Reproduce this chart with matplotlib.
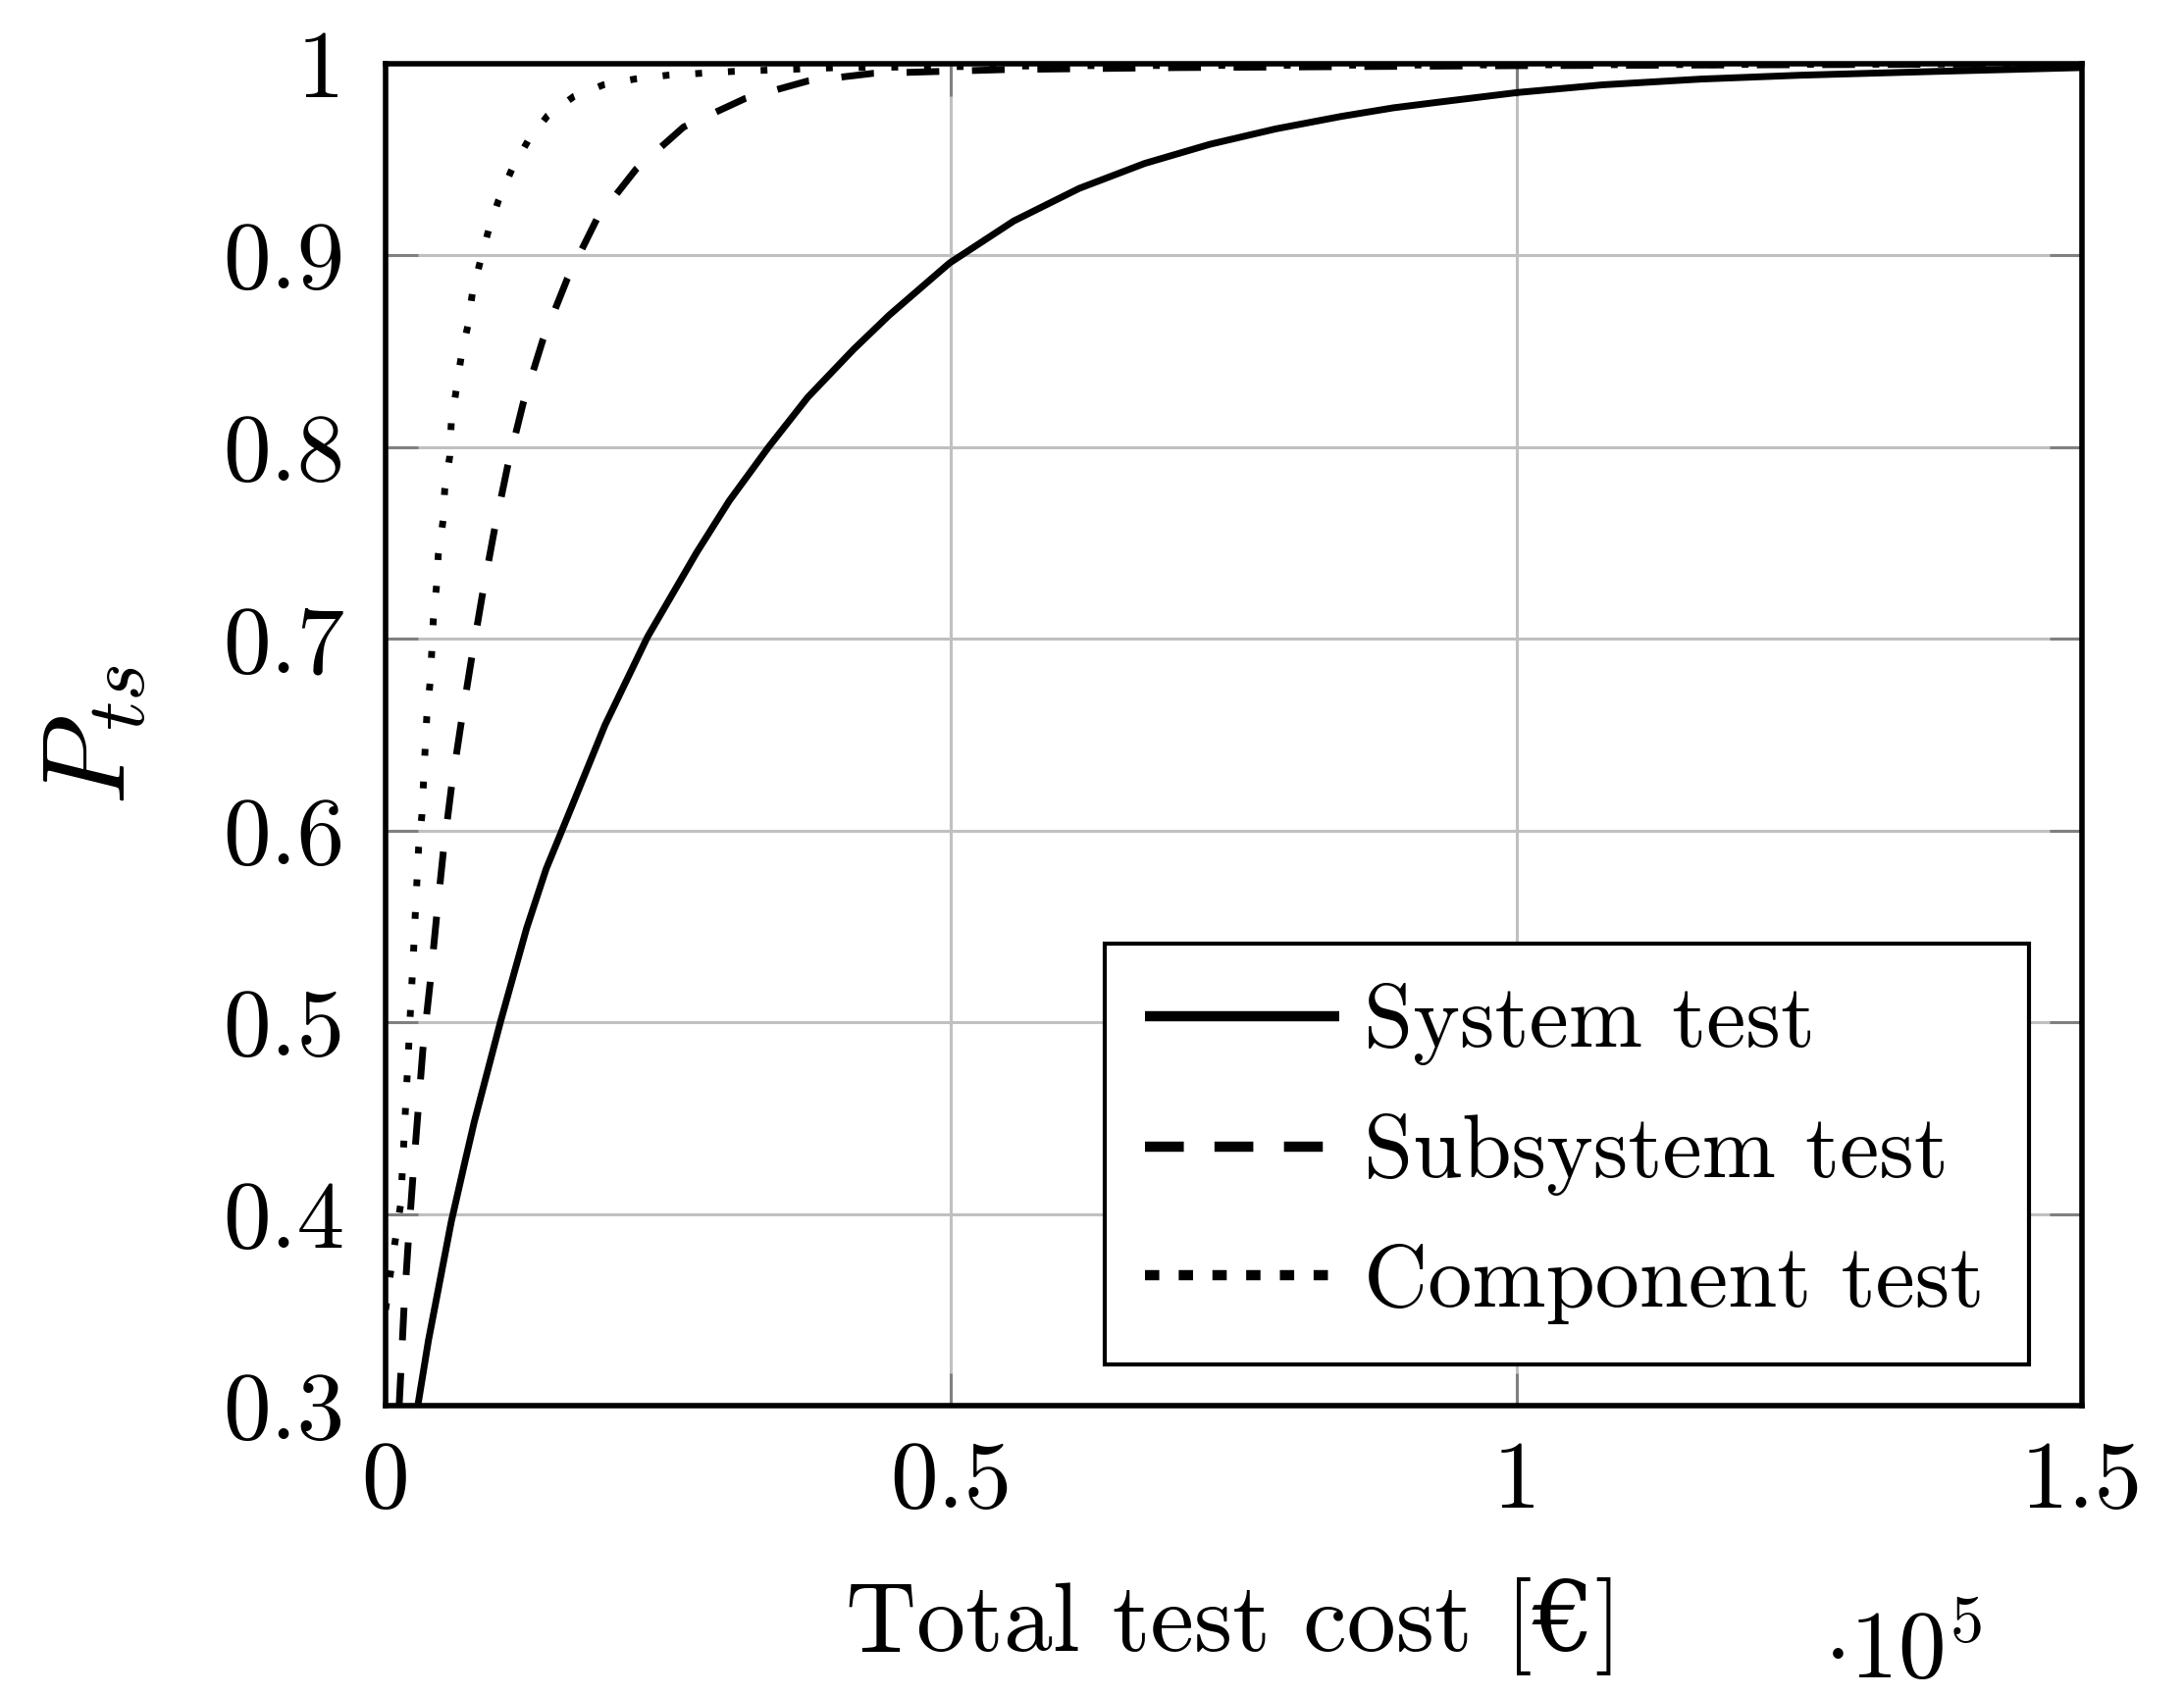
#!/usr/bin/env python3
"""Probability of test success vs. total test cost for three test levels."""
import matplotlib
matplotlib.use("Agg")
import matplotlib.pyplot as plt
from matplotlib.ticker import FixedLocator, FixedFormatter

# --- data (cost in EUR, P_ts) ---------------------------------------------
system_cost = [2850, 3790, 5810, 6970, 7840, 10150, 12470, 14200, 16220,
               19400, 23160, 27500, 30390, 33860, 37330, 41380, 44560,
               49860, 55550, 61340, 67120, 72900, 78690, 84470, 89100,
               93150, 100090, 107600, 116280, 125000, 137000, 150000]
system_p = [0.300, 0.334, 0.396, 0.426, 0.448, 0.500, 0.549, 0.580, 0.609,
            0.655, 0.701, 0.745, 0.772, 0.800, 0.826, 0.851, 0.869,
            0.896, 0.918, 0.935, 0.948, 0.958, 0.966, 0.9725, 0.977,
            0.980, 0.985, 0.989, 0.992, 0.994, 0.996, 0.998]

subsystem_cost = [1200, 1330, 1620, 2000, 2400, 2850, 3300, 3930, 4510,
                  5090, 5810, 6680, 7610, 8560, 9630, 10790, 12170, 13910,
                  16080, 18680, 22150, 26350, 31840, 37330, 43120, 55000,
                  70000, 100000, 150000]
subsystem_p = [0.300, 0.315, 0.350, 0.385, 0.418, 0.452, 0.486, 0.520, 0.555,
               0.588, 0.622, 0.656, 0.690, 0.723, 0.757, 0.790, 0.823, 0.856,
               0.888, 0.919, 0.945, 0.967, 0.982, 0.991, 0.995, 0.997,
               0.998, 0.999, 1.000]

component_cost = [0, 500, 1000, 1330, 1470, 1620, 1760, 1910, 2050, 2200,
                  2340, 2490, 2630, 2920, 3210, 3500, 3640, 3930, 4080, 4220,
                  4510, 4660, 5090, 5230, 5670, 5810, 6250, 6680, 7260, 7690,
                  8420, 9140, 10000, 11170, 12610, 14340, 16660, 19260,
                  22010, 24900, 27790, 30680, 40000, 60000, 150000]
component_p = [0.350, 0.372, 0.392, 0.405, 0.421, 0.438, 0.455, 0.472, 0.488,
               0.506, 0.522, 0.539, 0.557, 0.591, 0.608, 0.643, 0.659, 0.677,
               0.693, 0.710, 0.728, 0.744, 0.762, 0.778, 0.795, 0.813, 0.830,
               0.847, 0.863, 0.881, 0.898, 0.914, 0.929, 0.945, 0.960, 0.973,
               0.983, 0.989, 0.992, 0.994, 0.995, 0.996, 0.998, 0.999, 1.000]

series_labels = ["System test", "Subsystem test", "Component test"]

x_ticks = [0, 50000, 100000, 150000]
x_ticklabels = ["0", "0.5", "1", "1.5"]
y_ticks = [0.3, 0.4, 0.5, 0.6, 0.7, 0.8, 0.9, 1.0]
y_ticklabels = ["0.3", "0.4", "0.5", "0.6", "0.7", "0.8", "0.9", "1"]

GRID = "#c0c0c0"
TICK = "#808080"
LW = 5.0


def main():
    plt.rcParams.update({
        "font.family": ["cmr10", "DejaVu Serif"],
        "mathtext.fontset": "cm",
        "axes.formatter.use_mathtext": True,
        "axes.unicode_minus": False,
    })
    W, H = 2226, 1728
    fig = plt.figure(figsize=(W / 100, H / 100), dpi=100)
    left, right, top, bottom = 393, 2122, 65, 1433
    ax = fig.add_axes([left / W, 1 - bottom / H, (right - left) / W,
                       (bottom - top) / H])

    ax.plot(system_cost, system_p, color="black", lw=LW, ls="-",
            solid_capstyle="butt", label=series_labels[0], zorder=3)
    ax.plot(subsystem_cost, subsystem_p, color="black", lw=LW,
            ls=(0, (4.8, 4.8)), label=series_labels[1], zorder=3)
    ax.plot(component_cost, component_p, color="black", lw=LW,
            ls=(0, (1.0, 3.8)), label=series_labels[2], zorder=3)

    ax.set_xlim(0, 150000)
    ax.set_ylim(0.3, 1.0)
    ax.xaxis.set_major_locator(FixedLocator(x_ticks))
    ax.xaxis.set_major_formatter(FixedFormatter(x_ticklabels))
    ax.yaxis.set_major_locator(FixedLocator(y_ticks))
    ax.yaxis.set_major_formatter(FixedFormatter(y_ticklabels))
    ax.minorticks_off()

    ax.grid(True, color=GRID, lw=2.2, zorder=0)
    ax.set_axisbelow(True)
    ax.tick_params(direction="in", length=24, width=2.2, color=TICK,
                   top=True, right=True, labelsize=70)
    ax.tick_params(axis="y", pad=30)
    ax.tick_params(axis="x", pad=26)
    for sp in ax.spines.values():
        sp.set_linewidth(4.0)
        sp.set_color("black")
        sp.set_zorder(4)

    ax.set_xlabel("Total test cost [€]", fontsize=72)
    ax.xaxis.set_label_coords(0.5, -0.128)
    ax.text(0.848, -0.203, r"$\cdot10^{5}$", transform=ax.transAxes,
            fontsize=70, ha="left", va="baseline")
    ax.set_ylabel(r"$P_{ts}$", fontsize=86, va="center")
    ax.yaxis.set_label_coords(-0.171, 0.5)

    leg = ax.legend(loc="lower left", bbox_to_anchor=(0.424, 0.031, 0.545, 0.315),
                    mode="expand", borderaxespad=0, fontsize=65,
                    handlelength=2.2, handletextpad=0.27, borderpad=0.45,
                    labelspacing=0.54, fancybox=False, framealpha=1)
    leg.get_frame().set_edgecolor("black")
    leg.get_frame().set_linewidth(3.0)
    leg.set_zorder(5)
    leg_lines = leg.get_lines()
    for line in leg_lines:
        line.set_linewidth(7.5)
    leg_lines[1].set_linestyle((0, (3.8, 3.0)))
    leg_lines[2].set_linestyle((0, (1.4, 1.9)))

    fig.savefig("out.png", dpi=100)


if __name__ == "__main__":
    main()
